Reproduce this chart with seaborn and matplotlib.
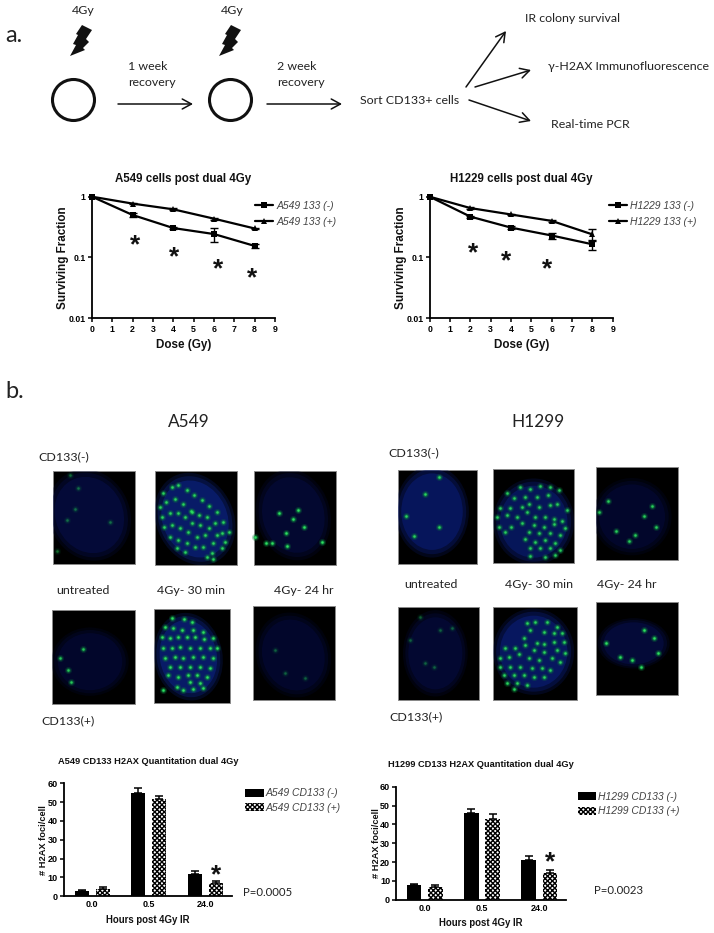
import numpy as np
import pandas as pd
import matplotlib
matplotlib.use('Agg')
import matplotlib.pyplot as plt
from matplotlib.patches import Ellipse, Polygon, Rectangle
import seaborn as sns

# survival curves
doses = [0, 2, 4, 6, 8]
a549_neg = [1, 0.50, 0.305, 0.243, 0.155]
a549_pos = [1, 0.77, 0.62, 0.435, 0.30]
a549_neg_err = [0, 0.04, 0.015, 0.06, 0.012]
a549_pos_err = [0, 0.02, 0.02, 0.015, 0.01]
h1229_neg = [1, 0.47, 0.31, 0.23, 0.165]
h1229_pos = [1, 0.65, 0.51, 0.40, 0.24]
h1229_neg_err = [0, 0.02, 0.015, 0.025, 0.03]
h1229_pos_err = [0, 0.02, 0.015, 0.015, 0.05]
a549_star_x = [2.1, 4.05, 6.2, 7.85]
a549_star_y = [0.175, 0.11, 0.069, 0.05]
h1229_star_x = [2.13, 3.75, 5.77]
h1229_star_y = [0.13, 0.094, 0.069]

# foci bars
hours = ['0.0', '0.5', '24.0']
bar_a549_neg = [3, 55, 12]
bar_a549_pos = [4, 51.5, 7]
bar_a549_neg_err = [0.5, 2.3, 1.5]
bar_a549_pos_err = [0.8, 2, 1]
bar_h1299_neg = [8, 46, 21]
bar_h1299_pos = [7, 43, 14]
bar_h1299_neg_err = [0.6, 2.2, 2]
bar_h1299_pos_err = [0.6, 2.5, 1.6]
bar_a549_star = 12.4
bar_h1299_star = 21

foci_a = [(235, 263), (225, 328), (200, 360), (170, 453), (330, 365), (210, 225)]
foci_b = [(490, 278), (515, 262), (533, 255), (560, 270), (583, 285), (605, 300), (628, 318), (650, 335),
          (670, 365), (688, 395), (480, 320), (498, 305), (525, 298), (550, 312), (572, 332), (598, 345),
          (620, 350), (645, 370), (665, 400), (487, 352), (510, 340), (535, 340), (555, 350), (575, 370),
          (600, 375), (628, 385), (650, 405), (675, 425), (492, 380), (515, 375), (540, 385), (565, 395),
          (590, 410), (615, 405), (640, 430), (665, 445), (510, 410), (535, 420), (560, 430), (585, 440),
          (610, 440), (635, 460), (530, 445), (555, 455), (622, 470), (640, 478), (575, 335)]
foci_c = [(893, 331), (880, 357), (913, 380), (858, 398), (797, 428), (815, 428), (860, 438), (765, 411),
          (838, 340), (965, 425)]
foci_d = [(180, 775), (250, 747), (203, 810), (213, 847)]
foci_e = [(515, 655), (553, 658), (575, 665), (495, 680), (520, 685), (545, 690), (580, 690), (610, 695),
          (485, 712), (510, 715), (535, 712), (560, 712), (585, 712), (612, 718), (640, 715), (490, 745),
          (515, 745), (540, 740), (570, 745), (600, 745), (630, 745), (650, 745), (495, 775), (525, 770),
          (550, 775), (580, 770), (610, 770), (640, 775), (510, 800), (540, 800), (570, 800), (600, 800),
          (630, 805), (505, 825), (535, 830), (565, 825), (590, 825), (620, 830), (570, 845), (600, 850),
          (530, 860), (550, 870), (580, 868), (610, 865), (490, 870)]
foci_f = [(915, 835), (855, 820), (825, 750)]
foci_g = [(246, 230), (246, 380), (148, 348), (172, 408), (205, 283)]
foci_h = [(450, 280), (490, 262), (520, 268), (550, 258), (580, 262), (605, 270), (470, 295), (505, 290),
          (540, 290), (572, 285), (600, 312), (578, 315), (430, 325), (460, 325), (495, 320), (517, 312),
          (545, 320), (630, 330), (420, 350), (450, 345), (480, 350), (510, 335), (535, 350), (565, 350),
          (590, 358), (615, 362), (425, 380), (462, 380), (495, 370), (530, 375), (560, 380), (590, 372),
          (625, 385), (445, 395), (515, 395), (545, 400), (580, 400), (610, 405), (505, 418), (535, 425),
          (565, 420), (595, 430), (520, 445), (550, 445), (580, 445), (610, 450), (520, 468), (565, 470),
          (595, 465)]
foci_i = [(752, 303), (727, 335), (885, 318), (860, 348), (898, 380), (776, 393), (835, 405), (817, 423)]
foci_j = [(230, 800), (205, 790), (250, 690), (285, 685), (158, 720), (190, 650)]
foci_k = [(510, 668), (535, 665), (570, 665), (600, 680), (520, 690), (560, 695), (590, 700), (615, 700),
          (500, 715), (540, 730), (562, 732), (590, 725), (620, 725), (445, 745), (475, 745), (505, 735),
          (530, 750), (560, 755), (600, 750), (625, 760), (430, 775), (455, 770), (485, 762), (515, 775),
          (545, 780), (585, 775), (610, 785), (430, 800), (460, 800), (490, 800), (525, 805), (555, 805),
          (580, 810), (440, 825), (470, 825), (500, 825), (530, 830), (560, 830), (450, 850), (480, 850),
          (510, 855), (470, 868)]
foci_l = [(892, 713), (903, 758), (788, 772), (825, 780), (860, 690), (748, 730), (852, 800)]

sns.set_theme(style='ticks')
plt.rcParams['font.family'] = ['Liberation Sans', 'DejaVu Sans']

W, H = 714, 933
fig = plt.figure(figsize=(W / 100, H / 100), dpi=100)

# whole-page axes in image pixels, for the scheme and the micrographs
page = fig.add_axes([0, 0, 1, 1], zorder=0)
page.set_xlim(0, W)
page.set_ylim(H, 0)
page.axis('off')


def box(x0, x1, y0, y1):
    return fig.add_axes([x0 / W, 1 - y1 / H, (x1 - x0) / W, (y1 - y0) / H], zorder=2, facecolor='none')


def label(x, y, s, size=8.9, ha='left', color='#222222'):
    page.text(x, y, s, fontsize=size, ha=ha, va='center', color=color, family=['Lato', 'DejaVu Sans'])


def arrow(x0, y0, x1, y1):
    page.annotate('', xy=(x1, y1), xytext=(x0, y0),
                  arrowprops=dict(arrowstyle='->,head_length=0.55,head_width=0.3', color='#111111', lw=1.1,
                                  shrinkA=0, shrinkB=0))


# scheme
bolt = [(82, 25), (92, 30), (86, 39), (89, 42), (83, 48), (85, 50), (70, 56), (76, 45), (73, 44), (78, 35), (76, 34)]
for dx, cx in [(0, 73.5), (149, 230.5)]:
    page.add_patch(Polygon([(x + dx, y) for x, y in bolt], color='#111111', lw=0))
    page.add_patch(Ellipse((cx, 100), 42, 41, fc='white', ec='#111111', lw=2.2))
    label(83 + dx, 10, '4Gy', ha='center')
label(5, 35, 'a.', size=17)
label(5, 391, 'b.', size=17)
label(128, 66, '1 week')
label(128, 83, 'recovery')
label(277, 66, '2 week')
label(277, 83, 'recovery')
label(360, 101, 'Sort CD133+ cells')
label(525, 18, 'IR colony survival')
label(548, 66, 'γ-H2AX Immunofluorescence')
label(551, 124, 'Real-time PCR')
arrow(118, 104, 193, 104)
arrow(267, 104, 342, 104)
arrow(466, 87, 506, 31)
arrow(475, 87, 531, 70)
arrow(469, 100, 531, 121)

# micrographs: crop origin, panel box, nucleus (centre, size, angle, colour), foci, foci brightness
panels = [
    (0, (160, 404, 214, 491), (268, 345), (225, 260), -25, '#050c42', foci_a, 0.35),
    (0, (465, 712, 214, 495), (585, 357), (215, 265), -25, '#0a2078', foci_b, 0.9),
    (0, (762, 1008, 214, 495), (880, 345), (205, 255), -15, '#040a38', foci_c, 1.0),
    (0, (157, 404, 630, 911), (270, 785), (215, 190), 0, '#030832', foci_d, 0.8),
    (0, (462, 690, 628, 910), (565, 770), (190, 245), -10, '#0a2078', foci_e, 1.0),
    (0, (759, 1005, 619, 901), (880, 765), (205, 240), -20, '#030832', foci_f, 0.3),
    (357, (124, 360, 210, 491), (225, 335), (205, 255), 0, '#08196a', foci_g, 0.9),
    (357, (407, 652, 207, 488), (530, 365), (225, 240), 0, '#081a68', foci_h, 0.85),
    (357, (717, 964, 200, 481), (825, 350), (220, 215), 0, '#030832', foci_i, 0.85),
    (357, (124, 365, 620, 901), (235, 760), (180, 240), 0, '#040a3a', foci_j, 0.3),
    (357, (407, 660, 620, 901), (530, 755), (225, 240), 0, '#091b6e', foci_k, 0.9),
    (357, (717, 964, 605, 886), (830, 730), (200, 140), 0, '#050c42', foci_l, 1.0),
]
for ox, (x0, x1, y0, y1), centre, size, angle, blue, foci, bright in panels:
    px, py = ox + x0 / 3, 400 + y0 / 3
    frame = Rectangle((px, py), (x1 - x0) / 3, (y1 - y0) / 3, fc='black', ec='#8a8a8a', lw=0.7)
    page.add_patch(frame)
    for grow, alpha in [(1.08, 0.25), (1.0, 0.4), (0.9, 0.7)]:
        nucleus = Ellipse((ox + centre[0] / 3, 400 + centre[1] / 3), size[0] / 3 * grow, size[1] / 3 * grow,
                          angle=angle, fc=blue, ec='none', alpha=alpha)
        page.add_patch(nucleus)
        nucleus.set_clip_path(frame)
    fx = [ox + p[0] / 3 for p in foci]
    fy = [400 + p[1] / 3 for p in foci]
    sns.scatterplot(x=fx, y=fy, ax=page, s=26, color='#0a7a3a', alpha=bright * 0.3, linewidth=0, legend=False)
    sns.scatterplot(x=fx, y=fy, ax=page, s=10, color='#12a848', alpha=bright * 0.6, linewidth=0, legend=False)
    sns.scatterplot(x=fx, y=fy, ax=page, s=3, color='#30e060', alpha=bright, linewidth=0, legend=False)
page.set_xlim(0, W)
page.set_ylim(H, 0)
page.axis('off')

label(189, 422, 'A549', size=12.4, ha='center')
label(538, 422, 'H1299', size=12.4, ha='center')
for x, y, s in [(38, 457, 'CD133(-)'), (56, 591, 'untreated'), (157, 591, '4Gy- 30 min'), (274, 591, '4Gy- 24 hr'),
                (41, 721, 'CD133(+)'), (388, 453, 'CD133(-)'), (404, 585, 'untreated'), (505, 585, '4Gy- 30 min'),
                (597, 585, '4Gy- 24 hr'), (389, 717, 'CD133(+)')]:
    label(x, y, s)


def style_axes(ax):
    sns.despine(ax=ax)
    for side in ['left', 'bottom']:
        ax.spines[side].set_linewidth(1.3)
        ax.spines[side].set_color('black')


def survival(ax, neg, pos, neg_err, pos_err, names, title, star_x, star_y, leg_x):
    for y, err, marker, name, ms in [(neg, neg_err, 's', names[0], 4.6), (pos, pos_err, '^', names[1], 4.2)]:
        ax.errorbar(doses, y, yerr=err, fmt='none', ecolor='black', elinewidth=1, capsize=2.6, capthick=1)
        sns.lineplot(x=doses, y=y, ax=ax, marker=marker, markersize=ms, color='black', linewidth=1.6,
                     markeredgewidth=0, label=name, clip_on=False, errorbar=None)
    ax.set_yscale('log')
    ax.set_xlim(0, 9)
    ax.set_ylim(0.01, 1)
    ax.set_xticks(range(10))
    ax.set_yticks([0.01, 0.1, 1], ['0.01', '0.1', '1'])
    ax.minorticks_off()
    ax.tick_params(length=3, width=1.1, pad=1.5, labelsize=6.3, colors='black')
    for t in ax.get_xticklabels() + ax.get_yticklabels():
        t.set_fontweight('bold')
    ax.set_xlabel('Dose (Gy)', fontsize=8.4, fontweight='bold', labelpad=4, color='#111111')
    ax.set_ylabel('Surviving Fraction', fontsize=8.4, fontweight='bold', labelpad=-0.5, color='#111111')
    ax.set_title(title, fontsize=8.3, fontweight='bold', pad=10.5, color='#111111')
    for x, y in zip(star_x, star_y):
        ax.text(x, y, '*', fontsize=19, fontweight='bold', ha='center', va='center_baseline', color='#111111')
    leg = ax.legend(loc='upper left', bbox_to_anchor=(leg_x, 0.965), frameon=False, handlelength=1.7, handletextpad=0.35,
                    labelspacing=0.55, borderpad=0, borderaxespad=0, prop=dict(size=7.5, style='italic'))
    for t in leg.get_texts():
        t.set_color('#444444')
    style_axes(ax)


def foci_bars(ax, neg, pos, neg_err, pos_err, names, title, star, leg_x, leg_y):
    df = pd.DataFrame({'hours': hours * 2, 'foci': neg + pos, 'group': [names[0]] * 3 + [names[1]] * 3})
    sns.barplot(data=df, x='hours', y='foci', hue='group', ax=ax, width=0.74, gap=0.32, palette=['black', 'white'],
                edgecolor='black', linewidth=0, legend=False, errorbar=None)
    for bars, err in zip(ax.containers, [neg_err, pos_err]):
        xs = [b.get_x() + b.get_width() / 2 for b in bars]
        ys = [b.get_height() for b in bars]
        ax.errorbar(xs, ys, yerr=[[0] * 3, err], fmt='none', ecolor='black', elinewidth=1.1, capsize=2.9, capthick=1.1)
    for b in ax.containers[1]:
        b.set_hatch('xxxxxxx')
        b.set_edgecolor('black')
        b.set_linewidth(0)
    ax.set_xlim(-0.5, 2.47)
    ax.set_ylim(0, 60)
    ax.set_yticks(range(0, 61, 10))
    ax.tick_params(axis='y', length=3, width=1.1, pad=1.5, labelsize=6.5, colors='black')
    ax.tick_params(axis='x', length=0, pad=3, labelsize=6.5, colors='black')
    for t in ax.get_xticklabels() + ax.get_yticklabels():
        t.set_fontweight('bold')
    ax.set_xlabel('Hours post 4Gy IR', fontsize=6.9, fontweight='bold', labelpad=4, color='#111111')
    ax.set_ylabel('# H2AX foci/cell', fontsize=6.7, fontweight='bold', labelpad=-0.5, color='#111111')
    ax.set_title(title, fontsize=6.7, fontweight='bold', pad=14, color='#111111')
    leg = ax.legend(ax.containers, names, loc='upper left', bbox_to_anchor=(leg_x, leg_y), frameon=False,
                    handlelength=1.75, handleheight=0.8, handletextpad=0.2, labelspacing=0.45, borderpad=0,
                    borderaxespad=0, prop=dict(size=7.5, style='italic'))
    for t in leg.get_texts():
        t.set_color('#444444')
    last = ax.containers[1][2]
    ax.text(last.get_x() + last.get_width() / 2, star, '*', fontsize=19, fontweight='bold', ha='center',
            va='center_baseline', color='#111111')
    style_axes(ax)


survival(box(92, 275, 196.7, 318.3), a549_neg, a549_pos, a549_neg_err, a549_pos_err,
         ['A549 133 (-)', 'A549 133 (+)'], 'A549 cells post dual 4Gy', a549_star_x, a549_star_y, 0.89)
survival(box(429.7, 612.7, 196.7, 318.3), h1229_neg, h1229_pos, h1229_neg_err, h1229_pos_err,
         ['H1229 133 (-)', 'H1229 133 (+)'], 'H1229 cells post dual 4Gy', h1229_star_x, h1229_star_y, 0.98)
foci_bars(box(64, 232, 783.3, 896.3), bar_a549_neg, bar_a549_pos, bar_a549_neg_err, bar_a549_pos_err,
          ['A549 CD133 (-)', 'A549 CD133 (+)'], 'A549 CD133 H2AX Quantitation dual 4Gy', bar_a549_star, 1.08, 0.955)
foci_bars(box(396.3, 566, 786.7, 899.7), bar_h1299_neg, bar_h1299_pos, bar_h1299_neg_err, bar_h1299_pos_err,
          ['H1299 CD133 (-)', 'H1299 CD133 (+)'], 'H1299 CD133 H2AX Quantitation dual 4Gy', bar_h1299_star, 1.07, 0.955)

label(243, 892, 'P=0.0005', size=8.2)
label(594, 890, 'P=0.0023', size=8.2)

fig.savefig('out.png', dpi=100)
